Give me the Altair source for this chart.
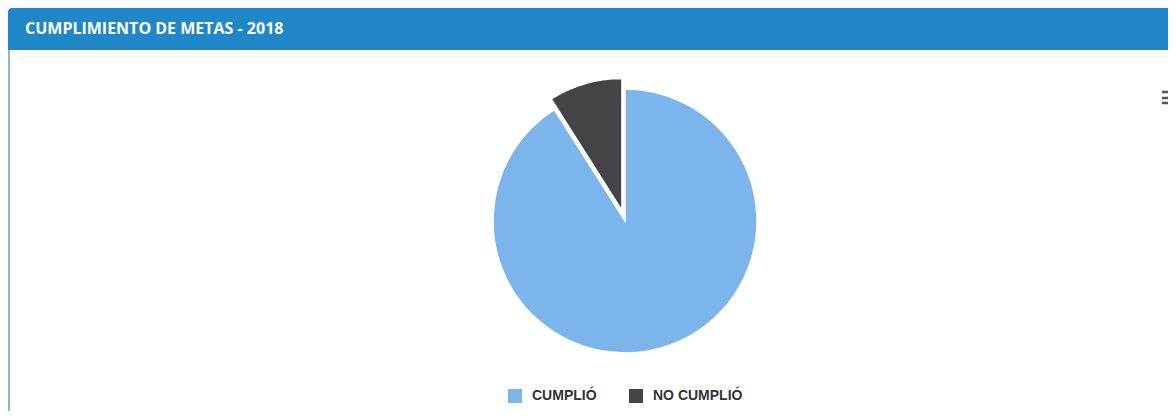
import altair as alt
import pandas as pd

# ---- data ----
categories = ["CUMPLIÓ", "NO CUMPLIÓ"]
values = [91, 9]
sliced = [0, 1]
slice_order = [0, 1]
colors = ["#7cb5ec", "#434348"]
title_text = "CUMPLIMIENTO DE METAS - 2018"

W, H = 1160, 403
CX, CY, R = 617, 213, 132

df = pd.DataFrame({"cat": categories, "value": values, "sliced": sliced, "order": slice_order})
one = pd.DataFrame({"k": [0]})

header = alt.Chart(one).mark_rect(color="#1f86c8", cornerRadiusTopLeft=4).encode(
    x=alt.value(0), x2=alt.value(W), y=alt.value(0), y2=alt.value(42)
)
left_border = alt.Chart(one).mark_rule(color="#8fb8c6", strokeWidth=2).encode(
    x=alt.value(1), y=alt.value(42), y2=alt.value(H)
)
sep = alt.Chart(one).mark_rule(color="#e8eef2", strokeWidth=1).encode(
    x=alt.value(12), x2=alt.value(W), y=alt.value(49)
)
title = alt.Chart(one).mark_text(
    text=title_text, color="white", font="Open Sans", fontWeight="bold", fontSize=16,
    align="left", baseline="middle"
).encode(x=alt.value(17), y=alt.value(21))

menu = alt.Chart(pd.DataFrame({"yy": [84, 90, 95]})).mark_rule(color="#555555", strokeWidth=2.5).encode(
    x=alt.value(1154), x2=alt.value(W), y=alt.Y("yy:Q", scale=None)
)

pie = (
    alt.Chart(df)
    .transform_joinaggregate(total="sum(value)")
    .transform_window(cum="sum(value)", sort=[alt.SortField("order")], frame=[None, 0])
    .transform_calculate(
        t0="2*PI*(datum.cum-datum.value)/datum.total",
        t1="2*PI*datum.cum/datum.total",
    )
    .transform_calculate(mid="(datum.t0+datum.t1)/2", off="datum.sliced ? 11 : 0")
    .transform_calculate(
        px=f"{CX} + datum.off*sin(datum.mid)",
        py=f"{CY} - datum.off*cos(datum.mid)",
    )
    .mark_arc(radius=R, stroke="white", strokeWidth=1.5)
    .encode(
        theta=alt.Theta("t0:Q", scale=None),
        theta2="t1:Q",
        x=alt.X("px:Q", scale=None),
        y=alt.Y("py:Q", scale=None),
        color=alt.Color(
            "cat:N",
            scale=alt.Scale(domain=categories, range=colors),
            legend=alt.Legend(
                title=None, orient="none", direction="horizontal",
                legendX=500, legendY=381, padding=0,
                symbolType="square", symbolSize=196, symbolStrokeWidth=0,
                labelFont="Liberation Sans", labelFontWeight="bold", labelFontSize=14,
                labelColor="#333333", labelOffset=10, columnPadding=32,
            ),
        ),
    )
)

chart = (
    alt.layer(header, left_border, sep, title, menu, pie)
    .properties(width=W, height=H, padding=0,
                autosize=alt.AutoSizeParams(type="fit", contains="padding"),
                background="white")
    .configure_view(stroke=None)
)

chart.save("out.html", embed_options={"renderer": "svg", "actions": False})
